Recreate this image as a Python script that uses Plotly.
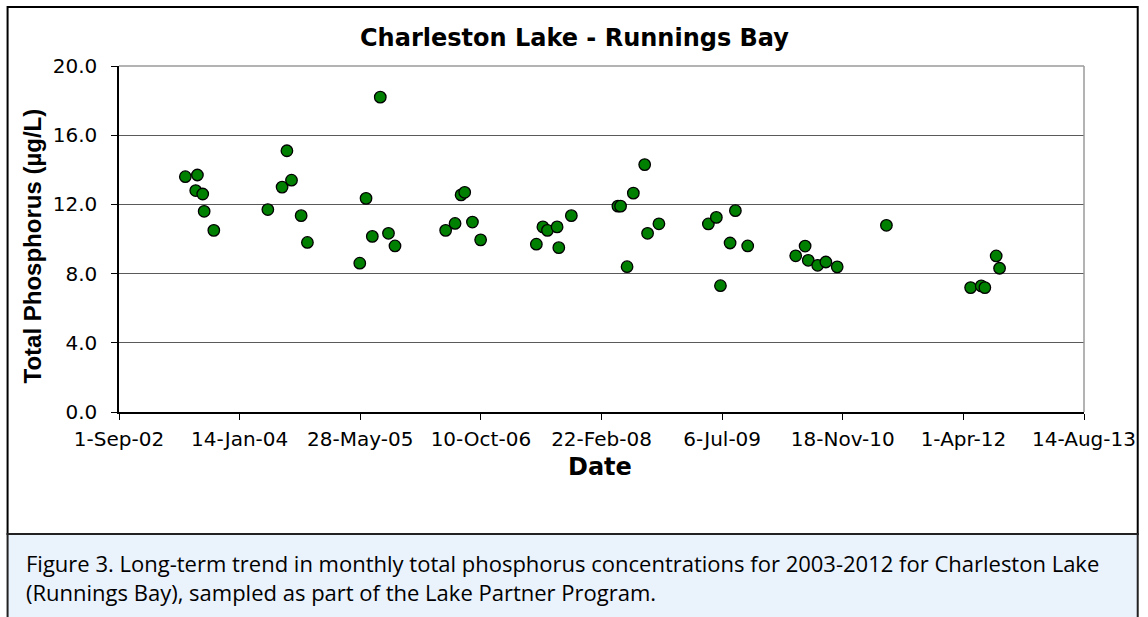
import plotly.graph_objects as go

# ---- data ----
sample_dates = [
    "2003-06-03", "2003-07-16", "2003-07-23", "2003-08-14", "2003-08-20", "2003-09-29",
    "2004-05-10", "2004-07-08", "2004-07-28", "2004-08-16", "2004-09-25", "2004-10-21",
    "2005-05-26", "2005-06-21", "2005-07-17", "2005-08-19", "2005-09-22", "2005-10-19",
    "2006-05-17", "2006-06-25", "2006-07-20", "2006-08-04", "2006-09-05", "2006-10-09",
    "2007-05-28", "2007-06-24", "2007-07-13", "2007-08-22", "2007-08-29", "2007-10-20",
    "2008-04-30", "2008-05-11", "2008-06-07", "2008-07-03", "2008-08-19", "2008-08-31", "2008-10-17",
    "2009-05-10", "2009-06-12", "2009-06-29", "2009-08-08", "2009-08-30", "2009-10-20",
    "2010-05-07", "2010-06-15", "2010-06-28", "2010-08-06", "2010-09-09", "2010-10-26",
    "2011-05-18",
    "2012-05-01", "2012-06-14", "2012-06-29", "2012-08-15", "2012-08-29",
]
total_phosphorus = [
    13.6, 12.8, 13.7, 12.6, 11.6, 10.5,
    11.7, 13.0, 15.1, 13.4, 11.35, 9.8,
    8.6, 12.35, 10.15, 18.2, 10.33, 9.6,
    10.5, 10.9, 12.55, 12.7, 10.98, 9.95,
    9.7, 10.7, 10.5, 10.7, 9.5, 11.35,
    11.9, 11.9, 8.4, 12.65, 14.3, 10.33, 10.88,
    10.87, 11.25, 7.3, 9.77, 11.64, 9.6,
    9.03, 9.59, 8.77, 8.48, 8.67, 8.39,
    10.79,
    7.19, 7.29, 7.19, 9.02, 8.31,
]

chart_title = "Charleston Lake - Runnings Bay"
x_title = "Date"
y_title = "Total Phosphorus (µg/L)"
caption_lines = [
    "Figure 3. Long-term trend in monthly total phosphorus concentrations for 2003-2012 for Charleston Lake",
    "(Runnings Bay), sampled as part of the Lake Partner Program.",
]
x_start, x_end = "2002-09-01", "2013-08-14"
y_min, y_max, y_step = 0, 20, 4

# ---- layout geometry (pixels) ----
W, H = 1148, 617
PL, PR, PT, PB = 119, 1089, 66, 412
pw, ph = PR - PL, PB - PT


def px(x):
    return (x - PL) / pw


def py(y):
    return (PB - y) / ph


AX = "DejaVu Sans, Liberation Sans, sans-serif"
AXB = "Liberation Sans, Arial, sans-serif"

fig = go.Figure()
fig.add_trace(go.Scatter(
    x=sample_dates, y=total_phosphorus, mode="markers",
    marker=dict(size=11.5, color="#008000", line=dict(color="#000000", width=1.3)),
    showlegend=False, cliponaxis=False,
))

shapes = [
    # outer chart border
    dict(type="rect", xref="paper", yref="paper", x0=px(7), x1=px(1143), y0=py(534), y1=py(7),
         line=dict(color="#000000", width=2), fillcolor="rgba(0,0,0,0)", layer="below"),
    # caption box
    dict(type="rect", xref="paper", yref="paper", x0=px(7), x1=px(1143), y0=py(640), y1=py(534),
         line=dict(color="#222222", width=2), fillcolor="#EAF2FC", layer="below"),
    # plot-area border (top/right grey)
    dict(type="line", xref="paper", yref="paper", x0=0, x1=1, y0=1, y1=1,
         line=dict(color="#9a9a9a", width=1.5)),
    dict(type="line", xref="paper", yref="paper", x0=1, x1=1, y0=0, y1=1,
         line=dict(color="#9a9a9a", width=1.5)),
]

annotations = [
    dict(text="<b>%s</b>" % chart_title, xref="paper", yref="paper", x=px(577), y=py(38),
         showarrow=False, font=dict(family=AX, size=24, color="#000"), xanchor="center", yanchor="middle"),
    dict(text="<b>%s</b>" % x_title, xref="paper", yref="paper", x=px(602), y=py(467),
         showarrow=False, font=dict(family=AX, size=24, color="#000"), xanchor="center", yanchor="middle"),
    dict(text="<b>%s</b>" % y_title, xref="paper", yref="paper", x=px(32), y=py(246),
         showarrow=False, textangle=-90, font=dict(family=AXB, size=24, color="#000"),
         xanchor="center", yanchor="middle"),
]
for i, line in enumerate(caption_lines):
    annotations.append(dict(text=line, xref="paper", yref="paper", x=px(24), y=py(563 + i * 29),
                            showarrow=False, font=dict(family="Open Sans, Noto Sans, sans-serif", size=22, color="#000"),
                            xanchor="left", yanchor="middle"))

fig.update_layout(
    width=W, height=H,
    margin=dict(l=PL, r=W - PR, t=PT, b=H - PB),
    paper_bgcolor="#ffffff", plot_bgcolor="#ffffff",
    shapes=shapes, annotations=annotations,
    xaxis=dict(
        type="date", range=[x_start, x_end],
        tick0=x_start, dtick=500 * 86400000, tickformat="%-d-%b-%y",
        ticks="outside", ticklen=6, tickcolor="#000", tickwidth=1,
        showline=True, linecolor="#000", linewidth=1.5,
        showgrid=False, zeroline=False,
        tickfont=dict(family=AX, size=20, color="#000"),
        ticklabelstandoff=2,
    ),
    yaxis=dict(
        range=[y_min, y_max], dtick=y_step, tick0=0, tickformat=".1f",
        ticks="outside", ticklen=6, tickcolor="#000", tickwidth=1,
        showline=True, linecolor="#000", linewidth=1.5,
        showgrid=True, gridcolor="#5a5a5a", gridwidth=1,
        zeroline=False,
        tickfont=dict(family=AX, size=20, color="#000"),
        ticklabelstandoff=10,
    ),
)

fig.write_html("out.html", config={"displayModeBar": False},
               post_script="document.body.style.margin='0px';")
